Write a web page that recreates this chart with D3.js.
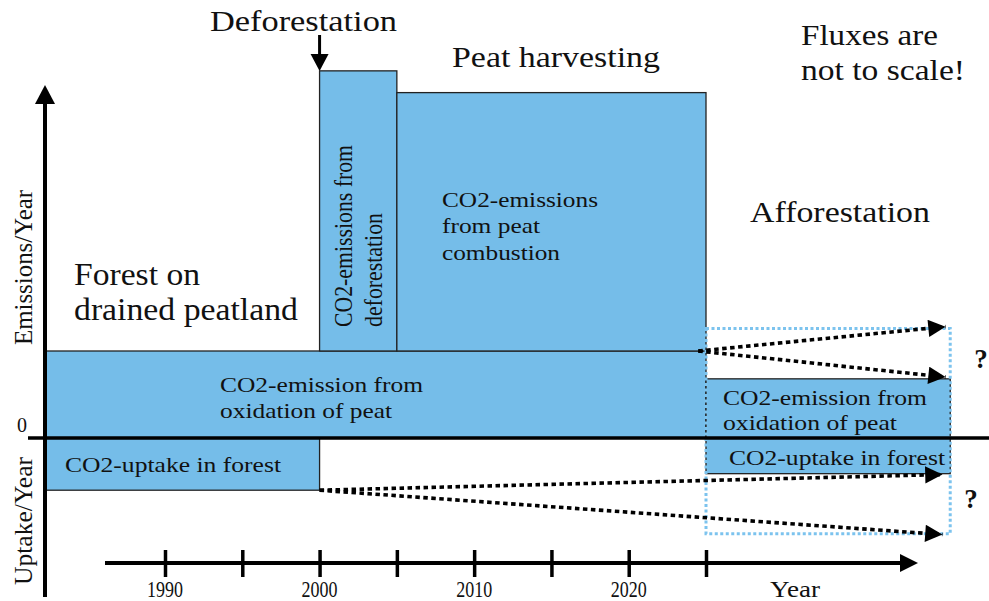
<!DOCTYPE html>
<html>
<head>
<meta charset="utf-8">
<script src="https://cdn.jsdelivr.net/npm/d3@7"></script>
<style>
  body { margin: 0; background: #fff; }
  svg text { font-family: "Liberation Serif", "Times New Roman", Times, serif; fill: #111; }
</style>
</head>
<body>
<div id="chart"></div>
<script>
// flux blocks (relative units, not to scale)
const blockNames = ["Oxidation, forest", "Uptake, forest", "Deforestation", "Peat combustion", "Oxidation, afforestation", "Uptake, afforestation"];
const blockStart = [1982.3, 1982.3, 2000, 2005, 2025, 2025];
const blockEnd = [2025, 2000, 2005, 2025, 2040.8, 2040.8];
const blockLow = [0, -0.6, 1.0, 1.0, 0, -0.41];
const blockHigh = [1.0, 0, 4.22, 3.97, 0.68, 0];

// uncertain future paths (dotted arrows)
const arrowFromYear = [2024.5, 2024.5, 2000, 2000];
const arrowFromVal = [1.0, 1.0, -0.6, -0.6];
const arrowToYear = [2040.5, 2040.5, 2040.3, 2040.3];
const arrowToVal = [1.28, 0.7, -0.42, -1.11];

// afforestation range box
const boxYears = [2025, 2040.8];
const boxVals = [1.26, -1.1];

const xTicks = [1990, 1995, 2000, 2005, 2010, 2015, 2020, 2025];
const xTickLabels = ["1990", "", "2000", "", "2010", "", "2020", ""];

const W = 989, H = 601;
const blue = "#75bde9";

const svg = d3.select("#chart").append("svg").attr("width", W).attr("height", H);

const x = d3.scaleLinear().domain([1990, 2025]).range([165, 706]);
const y = d3.scaleLinear().domain([0, 1]).range([438, 351]);

const defs = svg.append("defs");
defs.append("marker").attr("id", "head").attr("viewBox", "0 0 10 10").attr("refX", 10).attr("refY", 5)
  .attr("markerWidth", 5.5).attr("markerHeight", 4.8).attr("markerUnits", "strokeWidth").attr("orient", "auto")
  .append("path").attr("d", "M0,0 L10,5 L0,10 Z").attr("fill", "#000");

// blocks
svg.selectAll("rect.block").data(blockNames).enter().append("rect")
  .attr("class", "block")
  .attr("x", (d, i) => x(blockStart[i]))
  .attr("width", (d, i) => x(blockEnd[i]) - x(blockStart[i]))
  .attr("y", (d, i) => y(blockHigh[i]))
  .attr("height", (d, i) => y(blockLow[i]) - y(blockHigh[i]))
  .attr("fill", blue).attr("stroke", "#222").attr("stroke-width", 1.3);

// dotted light blue box
svg.append("rect")
  .attr("x", x(boxYears[0])).attr("y", y(boxVals[0]))
  .attr("width", x(boxYears[1]) - x(boxYears[0])).attr("height", y(boxVals[1]) - y(boxVals[0]))
  .attr("fill", "none").attr("stroke", "#7cc3ee").attr("stroke-width", 3).attr("stroke-dasharray", "3,2.5");

// dotted arrows
arrowFromYear.forEach((d, i) => {
  svg.append("line")
    .attr("x1", x(d)).attr("y1", y(arrowFromVal[i]))
    .attr("x2", x(arrowToYear[i])).attr("y2", y(arrowToVal[i]))
    .attr("stroke", "#000").attr("stroke-width", 3.6).attr("stroke-dasharray", "4.5,3.5")
    .attr("marker-end", "url(#head)");
});

// zero line
svg.append("line").attr("x1", 28).attr("x2", W).attr("y1", y(0)).attr("y2", y(0))
  .attr("stroke", "#000").attr("stroke-width", 3.5);

// y axis with arrow
svg.append("line").attr("x1", 45).attr("x2", 45).attr("y1", 597).attr("y2", 100)
  .attr("stroke", "#000").attr("stroke-width", 4);
svg.append("path").attr("d", "M45,85 L55,104 L35,104 Z").attr("fill", "#000");

// x axis (ticks from d3, labels drawn below)
const gx = svg.append("g").attr("transform", "translate(0,563)")
  .call(d3.axisBottom(x).tickValues(xTicks).tickFormat("").tickSize(14));
gx.select(".domain").remove();
gx.selectAll(".tick line").attr("y1", -13).attr("y2", 14).attr("stroke", "#000").attr("stroke-width", 3.5);
svg.selectAll("text.xlab").data(xTicks.filter((d, i) => xTickLabels[i] !== "")).enter().append("text")
  .attr("class", "xlab")
  .attr("x", d => x(d) - 18).attr("y", 597)
  .attr("font-size", 23).style("font-size", "23px")
  .attr("textLength", 36).attr("lengthAdjust", "spacingAndGlyphs")
  .text(d => xTickLabels[xTicks.indexOf(d)]);
svg.append("line").attr("x1", 105).attr("x2", 902).attr("y1", 563).attr("y2", 563)
  .attr("stroke", "#000").attr("stroke-width", 4);
svg.append("path").attr("d", "M918,563 L900,554 L900,572 Z").attr("fill", "#000");

// deforestation arrow
svg.append("line").attr("x1", x(2000)).attr("x2", x(2000)).attr("y1", 35).attr("y2", 56)
  .attr("stroke", "#000").attr("stroke-width", 3);
svg.append("path").attr("d", `M${x(2000)},71 L${x(2000) - 9},54 L${x(2000) + 9},54 Z`).attr("fill", "#000");

// horizontal labels: text, x, baseline, size, length
const labels = [
  ["Deforestation", 210, 31, 30, 187],
  ["Peat harvesting", 452, 67, 30, 208],
  ["Fluxes are", 801, 45, 29, 137],
  ["not to scale!", 801, 80, 29, 164],
  ["Afforestation", 750, 222, 30, 180],
  ["Forest on", 74, 285, 31, 126],
  ["drained peatland", 74, 320, 31, 224],
  ["CO2-emission from", 220, 392, 21, 203],
  ["oxidation of peat", 220, 418, 21, 172],
  ["CO2-uptake in forest", 65, 472, 21, 216],
  ["CO2-emission from", 723, 405, 21, 204],
  ["oxidation of peat", 723, 430, 21, 174],
  ["CO2-uptake in forest", 729, 465, 21, 216],
  ["CO2-emissions", 442, 207, 21, 156],
  ["from peat", 442, 233, 21, 98],
  ["combustion", 442, 260, 21, 118],
  ["Year", 770, 597, 23, 50]
];
labels.forEach(l => {
  svg.append("text").attr("x", l[1]).attr("y", l[2]).style("font-size", l[3] + "px")
    .attr("textLength", l[4]).attr("lengthAdjust", "spacingAndGlyphs").text(l[0]);
});

// rotated labels (glyphs widened like the horizontal ones)
const rot = [
  ["CO2-emissions from", 352, 327, 21, 182],
  ["deforestation", 382, 327, 21, 114],
  ["Emissions/Year", 32, 345, 21, 155],
  ["Uptake/Year", 32, 585, 21, 128]
];
rot.forEach(l => {
  svg.append("text").attr("transform", `translate(${l[1]},${l[2]}) rotate(-90) scale(1,1.18)`)
    .style("font-size", l[3] + "px").attr("textLength", l[4]).attr("lengthAdjust", "spacingAndGlyphs").text(l[0]);
});

svg.append("text").attr("x", 22).attr("y", 432).attr("text-anchor", "middle").style("font-size", "20px").text("0");
svg.append("text").attr("x", 981).attr("y", 368).attr("text-anchor", "middle").style("font-size", "27px").style("font-weight", "bold").text("?");
svg.append("text").attr("x", 971).attr("y", 508).attr("text-anchor", "middle").style("font-size", "27px").style("font-weight", "bold").text("?");
</script>
</body>
</html>
